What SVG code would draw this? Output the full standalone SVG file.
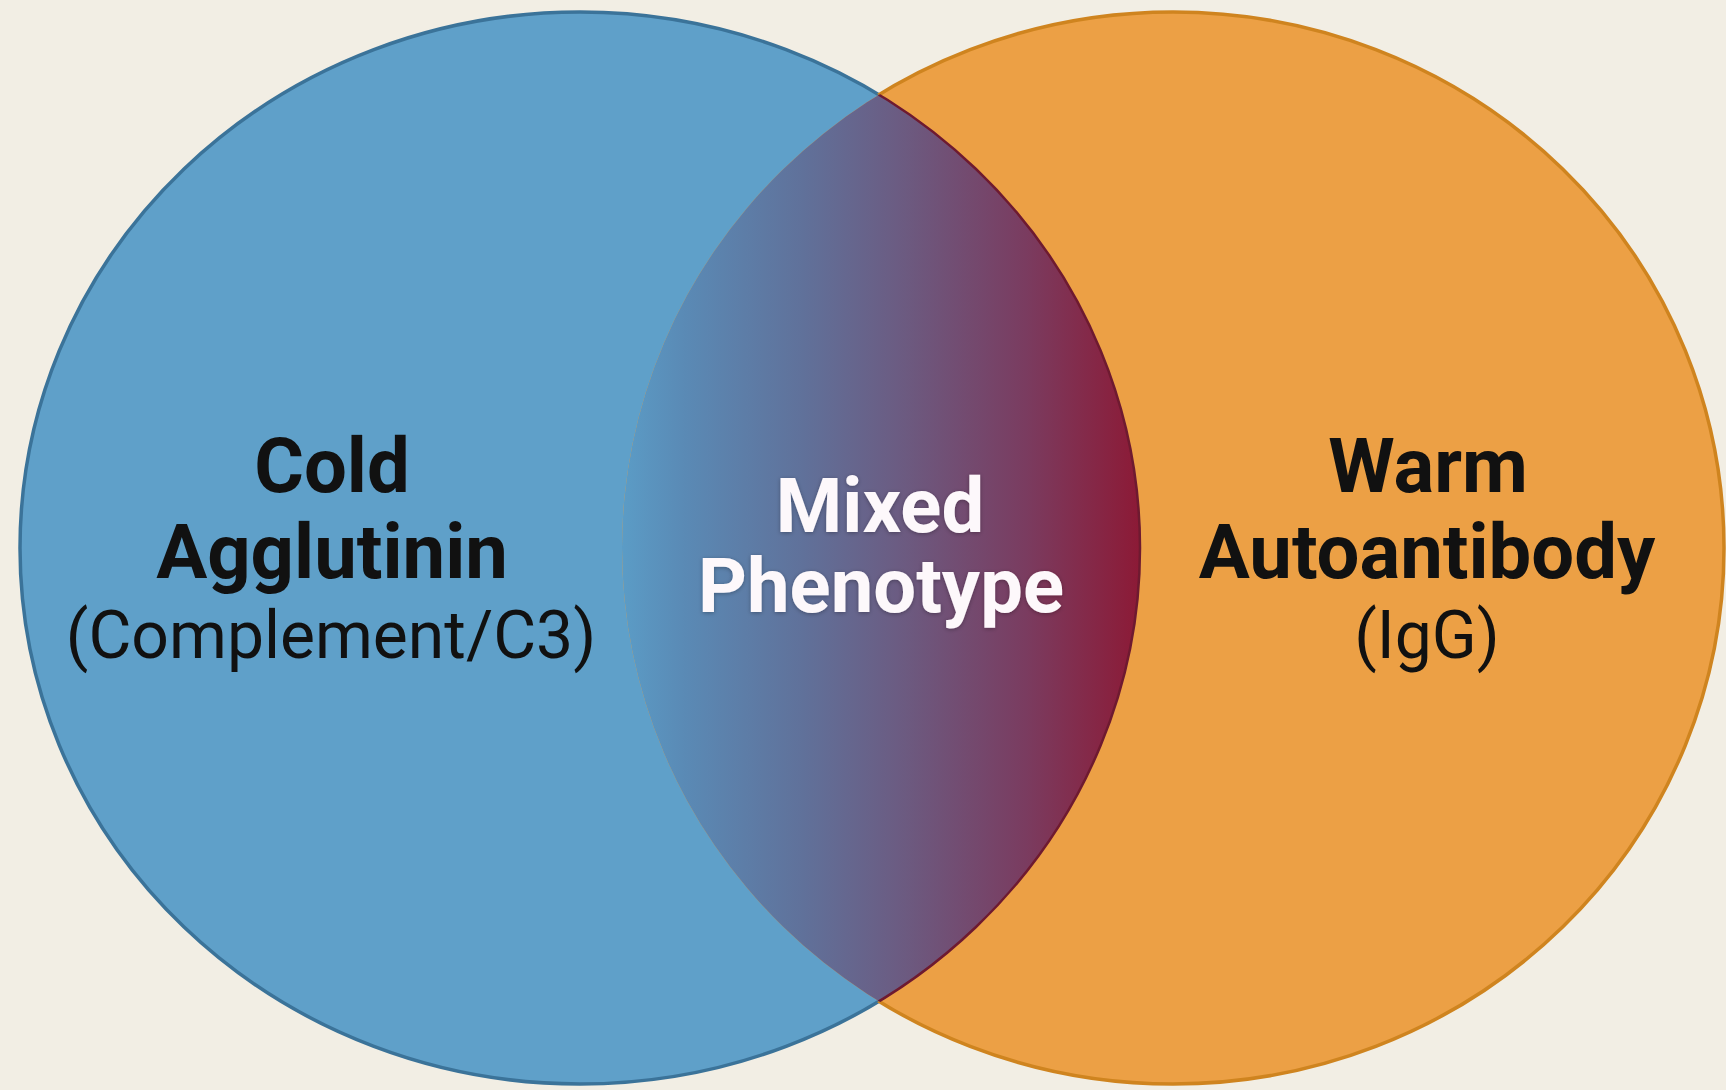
<svg xmlns="http://www.w3.org/2000/svg" width="1726" height="1090" viewBox="0 0 1726 1090">
<style>
.lbl{font-family:Roboto,"Liberation Sans",sans-serif;text-anchor:middle;fill:#111;}
.b{font-weight:700;font-size:76px;}
.r{font-weight:400;font-size:66px;}
.w{fill:#fdf8fb;filter:url(#sh);}
</style>
<defs>
<linearGradient id="lens" gradientUnits="userSpaceOnUse" x1="622" y1="0" x2="1139" y2="0">
<stop offset="0" stop-color="#5b9cc6"/>
<stop offset="0.12" stop-color="#5a8ab5"/>
<stop offset="0.35" stop-color="#60719a"/>
<stop offset="0.55" stop-color="#6c5a80"/>
<stop offset="0.78" stop-color="#7a3c60"/>
<stop offset="1" stop-color="#8c1a36"/>
</linearGradient>
<clipPath id="clipR"><ellipse cx="1173" cy="548" rx="551" ry="536"/></clipPath>
<mask id="outR"><rect width="1726" height="1090" fill="#fff"/><ellipse cx="1173" cy="548" rx="551" ry="536" fill="#000"/></mask>
<mask id="outL"><rect width="1726" height="1090" fill="#fff"/><ellipse cx="580" cy="548" rx="560" ry="536" fill="#000"/></mask>
<filter id="sh" x="-10%" y="-20%" width="120%" height="140%"><feDropShadow dx="0" dy="1" stdDeviation="2" flood-color="#000" flood-opacity="0.3"/></filter>
<filter id="glow" x="-5%" y="-5%" width="110%" height="110%"><feGaussianBlur stdDeviation="2"/></filter>
</defs>
<rect width="1726" height="1090" fill="#f2eee4"/>
<g id="cold">
<ellipse cx="580" cy="548" rx="560" ry="536" fill="#5fa0c9"/>
<ellipse cx="580" cy="548" rx="560" ry="536" fill="none" stroke="#3b7399" stroke-width="3.5" mask="url(#outR)"/>
</g>
<g id="warm">
<ellipse cx="1173" cy="548" rx="551" ry="536" fill="#eca045"/>
<ellipse cx="1173" cy="548" rx="551" ry="536" fill="none" stroke="#cf841f" stroke-width="3.5" mask="url(#outL)"/>
</g>
<g id="mixed">
<ellipse cx="580" cy="548" rx="560" ry="536" fill="url(#lens)" clip-path="url(#clipR)"/>
<ellipse cx="580" cy="548" rx="560" ry="536" fill="none" stroke="#6e1a30" stroke-width="2.5" clip-path="url(#clipR)"/>
</g>
<g id="labels">
<text class="lbl b" x="332" y="492">Cold</text>
<text class="lbl b" x="332" y="578">Agglutinin</text>
<text class="lbl r" x="331" y="658">(Complement/C3)</text>
<text class="lbl b w" x="880" y="532">Mixed</text>
<text class="lbl b w" x="881" y="612">Phenotype</text>
<text class="lbl b" x="1428" y="492">Warm</text>
<text class="lbl b" x="1427" y="578">Autoantibody</text>
<text class="lbl r" x="1427" y="658">(IgG)</text>
</g>
<g id="connectors"/>
</svg>
